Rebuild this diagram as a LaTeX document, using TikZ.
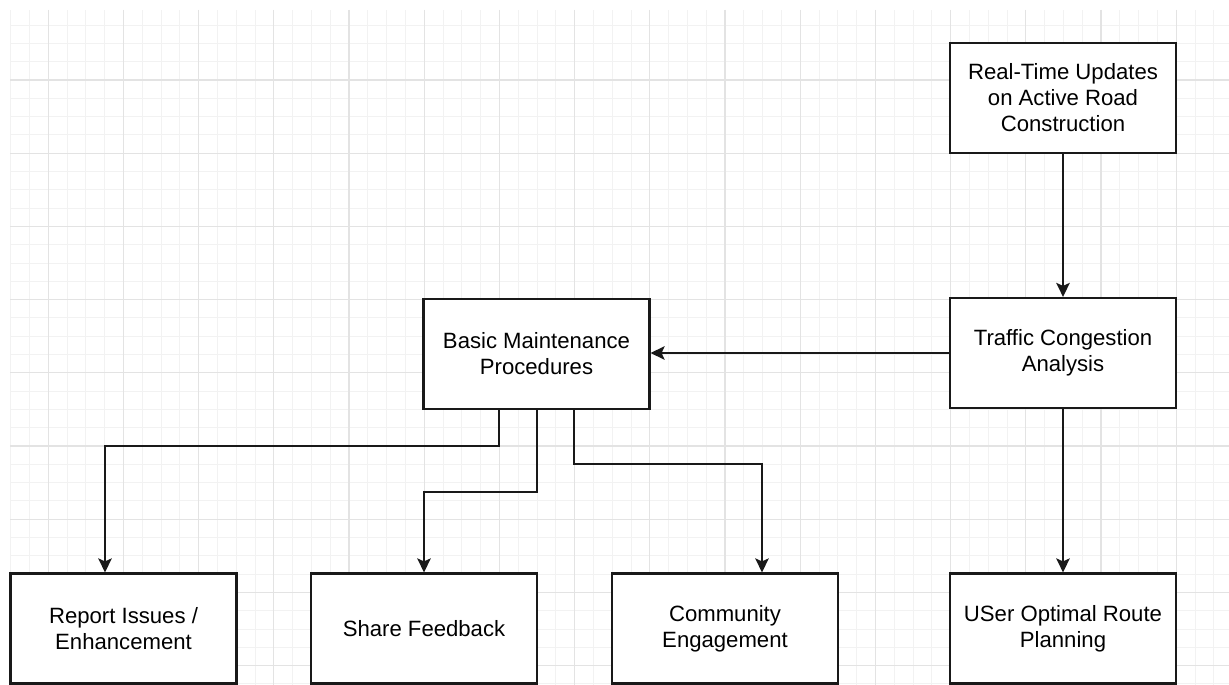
\documentclass[tikz,border=0pt]{standalone}
\usepackage{fontspec}
\setmainfont{Liberation Sans}
\usetikzlibrary{arrows.meta}
\tikzset{
	box/.style={draw=black!90, line width=1.25pt, fill=white, minimum width=4.52cm, minimum height=2.2cm, inner sep=0pt, align=center, font=\fontsize{12.6}{14.8}\selectfont},
	link/.style={draw=black!90, line width=1.2pt, -{Stealth[length=0.28cm, width=0.27cm, inset=0.06cm]}},
}

\begin{document}
\begin{tikzpicture}[x=0.02cm, y=-0.02cm]
			%%%%% START %%%%%
			
			\useasboundingbox (0, 0) rectangle (1229, 685);
			
			% grid
			\begin{scope}
				\clip (10, 10) rectangle (1229, 685);
				\foreach \i in {0,...,66} {
					\draw[line width=0.5pt, color=black!5] ({-27+18.8*\i}, 10) -- ({-27+18.8*\i}, 685);
				}
				\foreach \i in {0,...,40} {
					\draw[line width=0.5pt, color=black!5] (10, {6.8+18.3*\i}) -- (1229, {6.8+18.3*\i});
				}
				\foreach \i in {0,...,16} {
					\draw[line width=0.6pt, color=black!11] ({-27+75.2*\i}, 10) -- ({-27+75.2*\i}, 685);
				}
				\foreach \i in {0,...,10} {
					\draw[line width=0.6pt, color=black!11] (10, {6.8+73.2*\i}) -- (1229, {6.8+73.2*\i});
				}
			\end{scope}
			
			\node[box] (realtime) at (1063, 98) {Real-Time Updates\\on Active Road\\Construction};
			\node[box] (traffic) at (1063, 353) {Traffic Congestion\\Analysis};
			\node[box] (basic) at (536.5, 354) {Basic Maintenance\\Procedures};
			
			\node[box] (report) at (123.5, 628.5) {Report Issues /\\Enhancement};
			\node[box] (share) at (424, 628.5) {Share Feedback};
			\node[box] (community) at (725, 628.5) {Community\\Engagement};
			\node[box] (route) at (1063, 628.5) {USer Optimal Route\\Planning};
			
			\draw[link] (realtime.south) -- (traffic.north);
			\draw[link] (traffic.west) -- (traffic.west -| basic.east);
			\draw[link] (traffic.south) -- (route.north);
			
			\draw[link] ([xshift=-0.75cm]basic.south) -- ++(0, 36) -| ([xshift=-0.37cm]report.north);
			\draw[link] ([xshift=0.01cm]basic.south) -- ++(0, 82) -| (share.north);
			\draw[link] ([xshift=0.75cm]basic.south) -- ++(0, 54) -| ([xshift=0.74cm]community.north);
			
			%%%%% END %%%%%
\end{tikzpicture}
\end{document}
